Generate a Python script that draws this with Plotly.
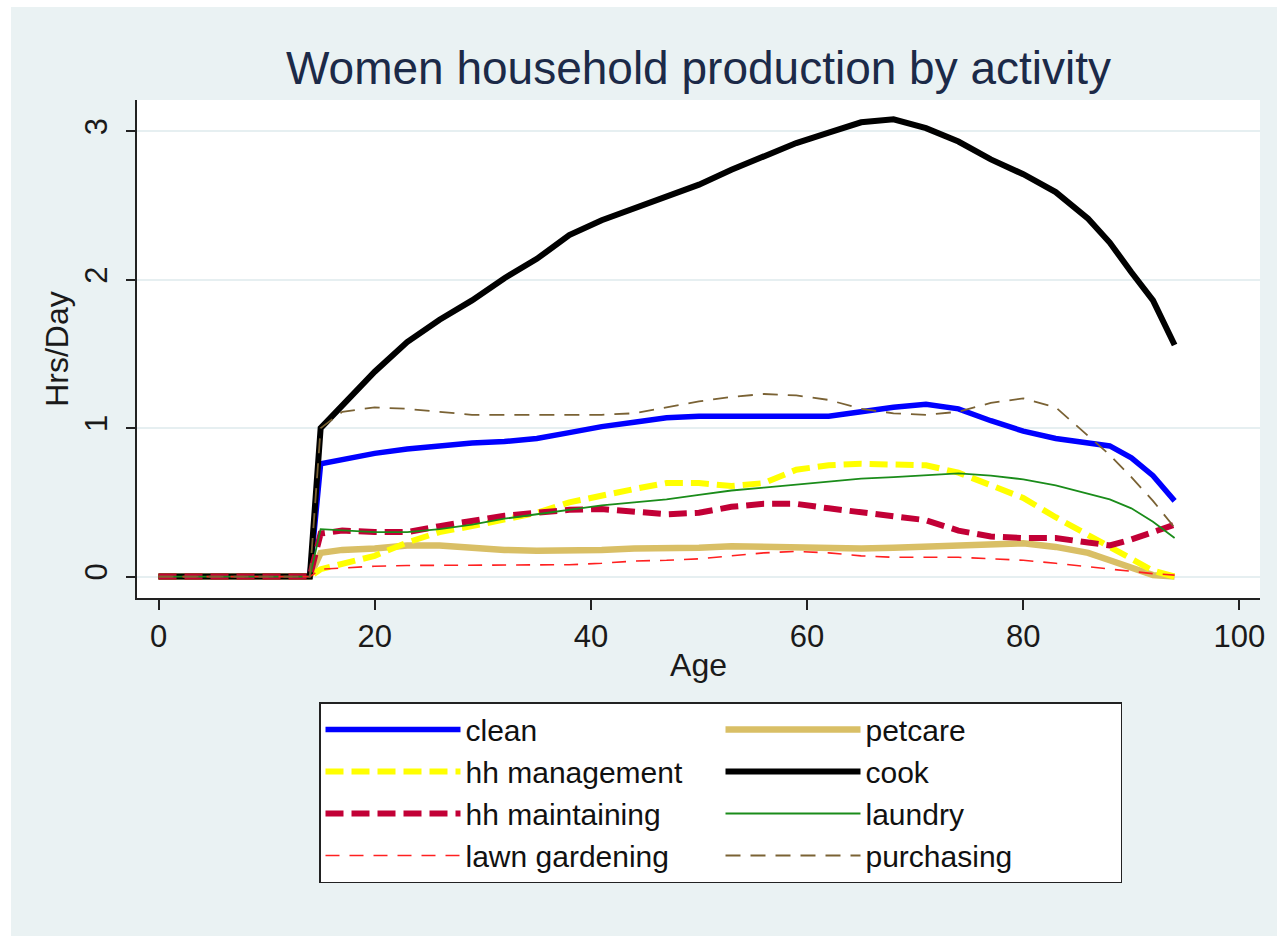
import plotly.graph_objects as go

# ---- data ----
ages = [0, 14, 15, 17, 20, 23, 26, 29, 32, 35, 38, 41, 44, 47, 50, 53, 56, 59,
        62, 65, 68, 71, 74, 77, 80, 83, 86, 88, 90, 92, 94]

clean = [0, 0, 0.76, 0.79, 0.83, 0.86, 0.88, 0.90, 0.91, 0.93, 0.97, 1.01, 1.04, 1.07,
         1.08, 1.08, 1.08, 1.08, 1.08, 1.11, 1.14, 1.16, 1.13, 1.05, 0.98, 0.93, 0.90,
         0.88, 0.80, 0.68, 0.51]
hh_management = [0, 0, 0.05, 0.09, 0.14, 0.23, 0.30, 0.34, 0.39, 0.43, 0.50, 0.55, 0.59,
                 0.63, 0.63, 0.61, 0.63, 0.72, 0.75, 0.76, 0.75, 0.75, 0.70, 0.62, 0.53,
                 0.40, 0.28, 0.19, 0.11, 0.04, 0.0]
hh_maintaining = [0, 0, 0.29, 0.31, 0.30, 0.30, 0.34, 0.38, 0.41, 0.43, 0.45, 0.455, 0.44,
                  0.42, 0.43, 0.47, 0.49, 0.49, 0.46, 0.43, 0.41, 0.38, 0.31, 0.27, 0.26,
                  0.26, 0.23, 0.21, 0.25, 0.30, 0.35]
lawn_gardening = [0, 0, 0.05, 0.06, 0.07, 0.075, 0.075, 0.075, 0.075, 0.075, 0.08, 0.09,
                  0.105, 0.11, 0.12, 0.14, 0.16, 0.17, 0.16, 0.14, 0.13, 0.13, 0.13, 0.12,
                  0.11, 0.09, 0.065, 0.05, 0.035, 0.02, 0.01]
petcare = [0, 0, 0.16, 0.18, 0.19, 0.21, 0.21, 0.19, 0.18, 0.175, 0.175, 0.18, 0.19, 0.19,
           0.195, 0.205, 0.20, 0.19, 0.19, 0.19, 0.195, 0.20, 0.215, 0.22, 0.225, 0.20,
           0.16, 0.11, 0.06, 0.01, 0.0]
cook = [0, 0, 1.0, 1.15, 1.38, 1.58, 1.73, 1.86, 2.01, 2.14, 2.30, 2.40, 2.48, 2.57, 2.64,
        2.74, 2.83, 2.92, 2.99, 3.06, 3.08, 3.02, 2.93, 2.81, 2.71, 2.59, 2.41, 2.25,
        2.05, 1.86, 1.56]
laundry = [0, 0, 0.32, 0.31, 0.30, 0.30, 0.32, 0.35, 0.39, 0.42, 0.45, 0.48, 0.50, 0.52,
           0.55, 0.58, 0.60, 0.62, 0.64, 0.66, 0.67, 0.68, 0.695, 0.68, 0.655, 0.615,
           0.56, 0.52, 0.46, 0.37, 0.26]
purchasing = [0, 0, 1.0, 1.11, 1.14, 1.13, 1.11, 1.09, 1.09, 1.09, 1.095, 1.09, 1.10, 1.14,
              1.18, 1.21, 1.23, 1.22, 1.19, 1.13, 1.10, 1.09, 1.11, 1.17, 1.20, 1.14, 0.95,
              0.82, 0.67, 0.51, 0.33]

x_ticks = [0, 20, 40, 60, 80, 100]
y_ticks = [0, 1, 2, 3]

FONT = "Liberation Sans, Arial, sans-serif"
BG = "#EAF2F3"

# drawing order = legend order (row by row)
series = [
    ("clean", clean, "#0000FF", 5.5, "solid"),
    ("petcare", petcare, "#D9BF66", 6.5, "solid"),
    ("hh management", hh_management, "#FFFF00", 6, "18px,8px"),
    ("cook", cook, "#000000", 6, "solid"),
    ("hh maintaining", hh_maintaining, "#C20036", 6, "18px,8px"),
    ("laundry", laundry, "#1A8C1A", 1.8, "solid"),
    ("lawn gardening", lawn_gardening, "#FF2020", 1.6, "14px,10px"),
    ("purchasing", purchasing, "#7A6234", 1.8, "15px,10px"),
]

fig = go.Figure()
for name, vals, color, width, dash in series:
    fig.add_trace(go.Scatter(
        x=ages, y=vals, name=name, mode="lines",
        line=dict(color=color, width=width, dash=dash),
    ))

L, R, T, B = 137, 17, 100, 338
W, H = 1277, 936
pw, ph = W - L - R, H - T - B

# background panels (Stata-like outer region and white plot region)
fig.add_shape(type="rect", xref="paper", yref="paper",
              x0=(11 - L) / pw, x1=(W + 5 - L) / pw,
              y0=(T + ph - (H + 5)) / ph, y1=(T + ph - 7) / ph,
              fillcolor=BG, line_width=0, layer="below")
fig.add_shape(type="rect", xref="paper", yref="paper", x0=0, x1=1, y0=0, y1=1,
              fillcolor="white", line_width=0, layer="below")

ITEMW = 135
fig.update_layout(
    width=W, height=H,
    margin=dict(l=L, r=R, t=T, b=B, pad=0),
    paper_bgcolor="white", plot_bgcolor="white",
    font=dict(family=FONT, color="#1a1a1a"),
    title=dict(text="Women household production by activity",
               x=0.5, xref="paper", xanchor="center",
               y=1 - 68 / H, yref="container", yanchor="middle",
               font=dict(size=46, color="#1c2a48", family=FONT)),
    showlegend=True,
    legend=dict(orientation="h", x=(319 - L) / pw, xanchor="left", xref="paper",
                y=(T + ph - 702) / ph, yanchor="top", yref="paper",
                bgcolor="white", bordercolor="#222", borderwidth=1.5,
                font=dict(size=30, color="#111", family=FONT),
                entrywidth=250, entrywidthmode="pixels",
                itemwidth=ITEMW, traceorder="normal"),
    xaxis=dict(range=[-1.99, 101.9], tickvals=x_ticks, showgrid=False, zeroline=False,
               showline=True, linecolor="#222", linewidth=2,
               ticks="outside", ticklen=10, tickwidth=2, tickcolor="#222",
               tickfont=dict(size=31, color="#1a1a1a"),
               title=dict(text="Age", font=dict(size=32, color="#1a1a1a"), standoff=0)),
    yaxis=dict(range=[-0.144, 3.21], tickvals=y_ticks, showgrid=True,
               gridcolor="#E6EFF1", gridwidth=1.5, zeroline=False,
               showline=True, linecolor="#222", linewidth=2,
               ticks="outside", ticklen=9, tickwidth=2, tickcolor="#222",
               tickangle=-90, ticklabelstandoff=7,
               tickfont=dict(size=31, color="#1a1a1a"),
               title=dict(text="Hrs/Day", font=dict(size=32, color="#1a1a1a"), standoff=0)),
)

fig.write_html("out.html", config={"displayModeBar": False},
               post_script="document.body.style.margin='0';document.body.style.overflow='hidden';")
